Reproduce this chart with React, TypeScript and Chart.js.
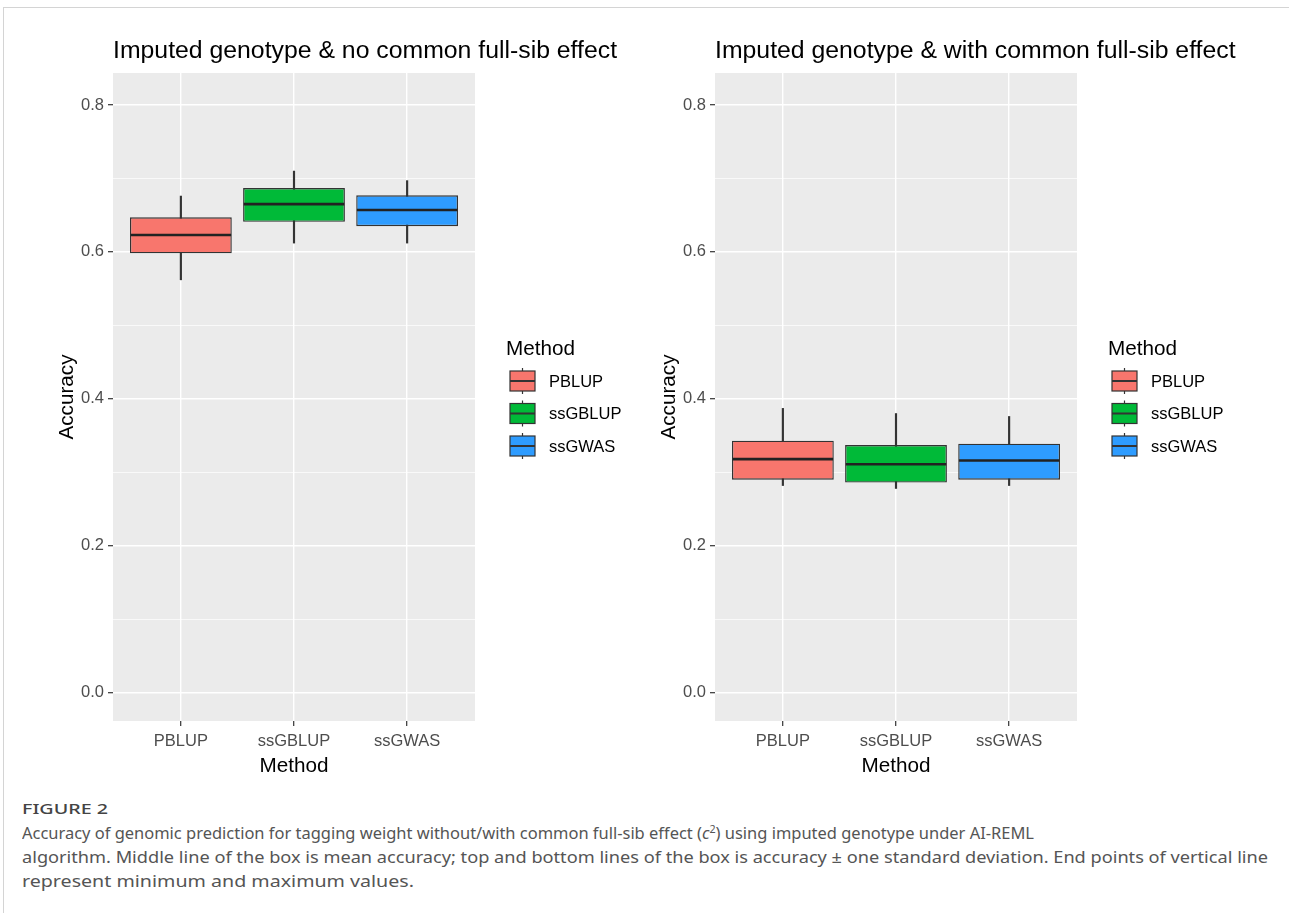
import React, { useEffect, useRef } from "react";
import { Chart, registerables } from "chart.js";
Chart.register(...registerables);

const categories = ["PBLUP", "ssGBLUP", "ssGWAS"];
const colors = ["#F8766D", "#00BA38", "#2E9CFF"];
const legendTitle = "Method";
const xTitle = "Method";
const yTitle = "Accuracy";

// Panel 1: no common full-sib effect
const p1Title = "Imputed genotype & no common full-sib effect";
const p1Min = [0.562, 0.612, 0.612];
const p1Low = [0.598, 0.641, 0.635];
const p1Mean = [0.623, 0.665, 0.657];
const p1High = [0.647, 0.687, 0.677];
const p1Max = [0.676, 0.71, 0.697];

// Panel 2: with common full-sib effect
const p2Title = "Imputed genotype & with common full-sib effect";
const p2Min = [0.282, 0.278, 0.282];
const p2Low = [0.29, 0.286, 0.29];
const p2Mean = [0.318, 0.311, 0.316];
const p2High = [0.343, 0.337, 0.339];
const p2Max = [0.387, 0.38, 0.376];

const captionHead = "FIGURE 2";
const captionLines = [
  ["Accuracy of genomic prediction for tagging weight without/with common full-sib effect (", "c", "2", ") using imputed genotype under AI-REML"],
  ["algorithm. Middle line of the box is mean accuracy; top and bottom lines of the box is accuracy ± one standard deviation. End points of vertical line"],
  ["represent minimum and maximum values."],
];
const captionWidths = [1012, 1246, 392];

const FONT = "'Liberation Sans', Arial, Helvetica, sans-serif";
const CW = 687;
const CH = 790;

const isMajor = (v: number) => Math.abs(v * 5 - Math.round(v * 5)) < 1e-6;

type PanelProps = {
  title: string;
  mins: number[];
  lows: number[];
  means: number[];
  highs: number[];
  maxs: number[];
  left: number;
};

function Panel({ title, mins, lows, means, highs, maxs, left }: PanelProps) {
  const ref = useRef<HTMLCanvasElement | null>(null);
  useEffect(() => {
    if (!ref.current) return;
    const bgPlugin = {
      id: "panelBg",
      beforeDraw(chart: any) {
        const { ctx, chartArea: a } = chart;
        ctx.save();
        ctx.fillStyle = "#EBEBEB";
        ctx.fillRect(a.left, a.top, a.right - a.left, a.bottom - a.top);
        ctx.restore();
      },
    };
    const medianPlugin = {
      id: "medianLines",
      afterDatasetsDraw(chart: any) {
        const { ctx } = chart;
        const meta = chart.getDatasetMeta(1);
        const ys = chart.scales.y;
        ctx.save();
        ctx.strokeStyle = "#222222";
        ctx.lineWidth = 2.6;
        meta.data.forEach((bar: any, i: number) => {
          const p = bar.getProps(["x", "width"], true);
          const y = ys.getPixelForValue(means[i]);
          ctx.beginPath();
          ctx.moveTo(p.x - p.width / 2 + 0.7, y);
          ctx.lineTo(p.x + p.width / 2 - 0.7, y);
          ctx.stroke();
        });
        ctx.restore();
      },
    };
    const decorPlugin = {
      id: "decor",
      afterDraw(chart: any) {
        const { ctx, chartArea: a } = chart;
        ctx.save();
        ctx.fillStyle = "#000";
        ctx.textBaseline = "alphabetic";
        ctx.textAlign = "left";
        ctx.font = `24.8px ${FONT}`;
        ctx.fillText(title, a.left, 58);
        // x title
        ctx.font = `20.7px ${FONT}`;
        ctx.textAlign = "center";
        ctx.fillText(xTitle, (a.left + a.right) / 2, 772);
        // y title
        ctx.save();
        ctx.translate(73, (a.top + a.bottom) / 2);
        ctx.rotate(-Math.PI / 2);
        ctx.textAlign = "center";
        ctx.fillText(yTitle, 0, 0);
        ctx.restore();
        // legend
        const lx = a.right + 31;
        ctx.textAlign = "left";
        ctx.font = `20.7px ${FONT}`;
        ctx.fillText(legendTitle, lx, 355);
        ctx.font = `16.5px ${FONT}`;
        ctx.textBaseline = "middle";
        categories.forEach((c, i) => {
          const cy = 381 + i * 32.5;
          const kx = a.right + 35;
          const kw = 25;
          ctx.strokeStyle = "#333333";
          ctx.lineWidth = 1.2;
          ctx.beginPath();
          ctx.moveTo(kx + kw / 2, cy - 13);
          ctx.lineTo(kx + kw / 2, cy + 13);
          ctx.stroke();
          ctx.fillStyle = colors[i];
          ctx.fillRect(kx, cy - 10, kw, 20);
          ctx.strokeRect(kx, cy - 10, kw, 20);
          ctx.lineWidth = 2;
          ctx.beginPath();
          ctx.moveTo(kx, cy);
          ctx.lineTo(kx + kw, cy);
          ctx.stroke();
          ctx.fillStyle = "#000";
          ctx.fillText(c, a.right + 74, cy + 1);
        });
        ctx.restore();
      },
    };
    const chart = new Chart(ref.current, {
      type: "bar",
      data: {
        datasets: [
          {
            label: "range",
            data: categories.map((_, i) => ({ x: i, y: [mins[i], maxs[i]] })) as any,
            backgroundColor: "#333333",
            borderWidth: 0,
            barThickness: 1.5,
            grouped: false,
            order: 2,
          } as any,
          {
            label: "box",
            data: categories.map((_, i) => ({ x: i, y: [lows[i], highs[i]] })) as any,
            backgroundColor: colors,
            borderColor: "#333333",
            borderWidth: 1.4,
            borderSkipped: false,
            barPercentage: 0.9,
            categoryPercentage: 1,
            grouped: false,
            order: 1,
          } as any,
        ],
      },
      options: {
        animation: false,
        responsive: false,
        maintainAspectRatio: false,
        devicePixelRatio: 1,
        layout: { padding: { left: 40, top: 73, right: CW - 475, bottom: CH - 721 - 30 } },
        plugins: { legend: { display: false }, tooltip: { enabled: false }, title: { display: false } },
        scales: {
          x: {
            type: "linear",
            min: -0.6,
            max: 2.6,
            offset: false,
            afterBuildTicks: (s: any) => {
              s.ticks = categories.map((_, i) => ({ value: i }));
            },
            afterFit: (s: any) => {
              s.height = 30;
            },
            ticks: {
              callback: (v: any) => categories[Math.round(Number(v))] ?? "",
              font: { family: FONT, size: 16.5 },
              color: "#4D4D4D",
              padding: 6,
              maxRotation: 0,
              autoSkip: false,
            },
            grid: { offset: false, color: "#FFFFFF", lineWidth: 1.4, tickColor: "#333333", tickLength: 5, tickWidth: 1.2 },
            border: { display: false },
          } as any,
          y: {
            type: "linear",
            min: -0.0385,
            max: 0.8435,
            afterFit: (s: any) => {
              s.width = 73;
            },
            ticks: {
              stepSize: 0.1,
              includeBounds: false,
              autoSkip: false,
              callback: (v: any) => (isMajor(Number(v)) ? Number(v).toFixed(1) : ""),
              font: { family: FONT, size: 16.5 },
              color: "#4D4D4D",
              padding: 4,
            },
            grid: {
              color: "#FFFFFF",
              lineWidth: (c: any) => (c.tick && isMajor(c.tick.value) ? 1.4 : 0.7),
              tickColor: (c: any) => (c.tick && isMajor(c.tick.value) ? "#333333" : "rgba(0,0,0,0)"),
              tickLength: 5,
              tickWidth: 1.2,
            },
            border: { display: false },
          } as any,
        },
      } as any,
      plugins: [bgPlugin, medianPlugin, decorPlugin],
    });
    return () => chart.destroy();
  }, []);
  return (
    <canvas
      ref={ref}
      width={CW}
      height={CH}
      style={{ position: "absolute", left, top: 0, width: CW, height: CH, display: "block" }}
    />
  );
}

export default function App() {
  const headRef = useRef<HTMLSpanElement | null>(null);
  const lineRefs = useRef<(HTMLSpanElement | null)[]>([]);
  useEffect(() => {
    const fit = (el: HTMLSpanElement | null, target: number) => {
      if (!el) return;
      el.style.transform = "none";
      const w = el.getBoundingClientRect().width;
      if (w > 0) el.style.transform = `scaleX(${target / w})`;
    };
    const fitAll = () => {
      fit(headRef.current, 86);
      lineRefs.current.forEach((el, i) => fit(el, captionWidths[i]));
    };
    fitAll();
    const fonts = (document as any).fonts;
    if (fonts && fonts.ready) fonts.ready.then(fitAll);
  }, []);
  return (
    <div style={{ position: "absolute", left: 0, top: 0, width: 1289, height: 913, background: "#fff", overflow: "hidden" }}>
      <div style={{ position: "absolute", left: 3, top: 7, width: 1286, height: 1, background: "#D4D4D4" }} />
      <div style={{ position: "absolute", left: 3, top: 7, width: 1, height: 906, background: "#D4D4D4" }} />
      <Panel title={p1Title} mins={p1Min} lows={p1Low} means={p1Mean} highs={p1High} maxs={p1Max} left={0} />
      <Panel title={p2Title} mins={p2Min} lows={p2Low} means={p2Mean} highs={p2High} maxs={p2Max} left={602} />
      <div style={{ position: "absolute", left: 22, top: 796, lineHeight: "24px", fontFamily: "'Noto Sans', sans-serif", fontSize: 15, fontWeight: 500, color: "#444" }}>
        <span ref={headRef} style={{ display: "inline-block", transformOrigin: "left center", whiteSpace: "nowrap" }}>{captionHead}</span>
      </div>
      {captionLines.map((ln, i) => (
        <div
          key={i}
          style={{ position: "absolute", left: 22, top: 821 + i * 24, lineHeight: "24px", fontFamily: "'Noto Sans', sans-serif", fontSize: 15.5, color: "#555", whiteSpace: "nowrap" }}
        >
          <span
            ref={(el) => {
              lineRefs.current[i] = el;
            }}
            style={{ display: "inline-block", transformOrigin: "left center", whiteSpace: "nowrap" }}
          >
            {ln.length === 1 ? (
              ln[0]
            ) : (
              <>
                {ln[0]}
                <i>{ln[1]}</i>
                <sup style={{ fontSize: "0.65em", lineHeight: 0 }}>{ln[2]}</sup>
                {ln[3]}
              </>
            )}
          </span>
        </div>
      ))}
    </div>
  );
}
